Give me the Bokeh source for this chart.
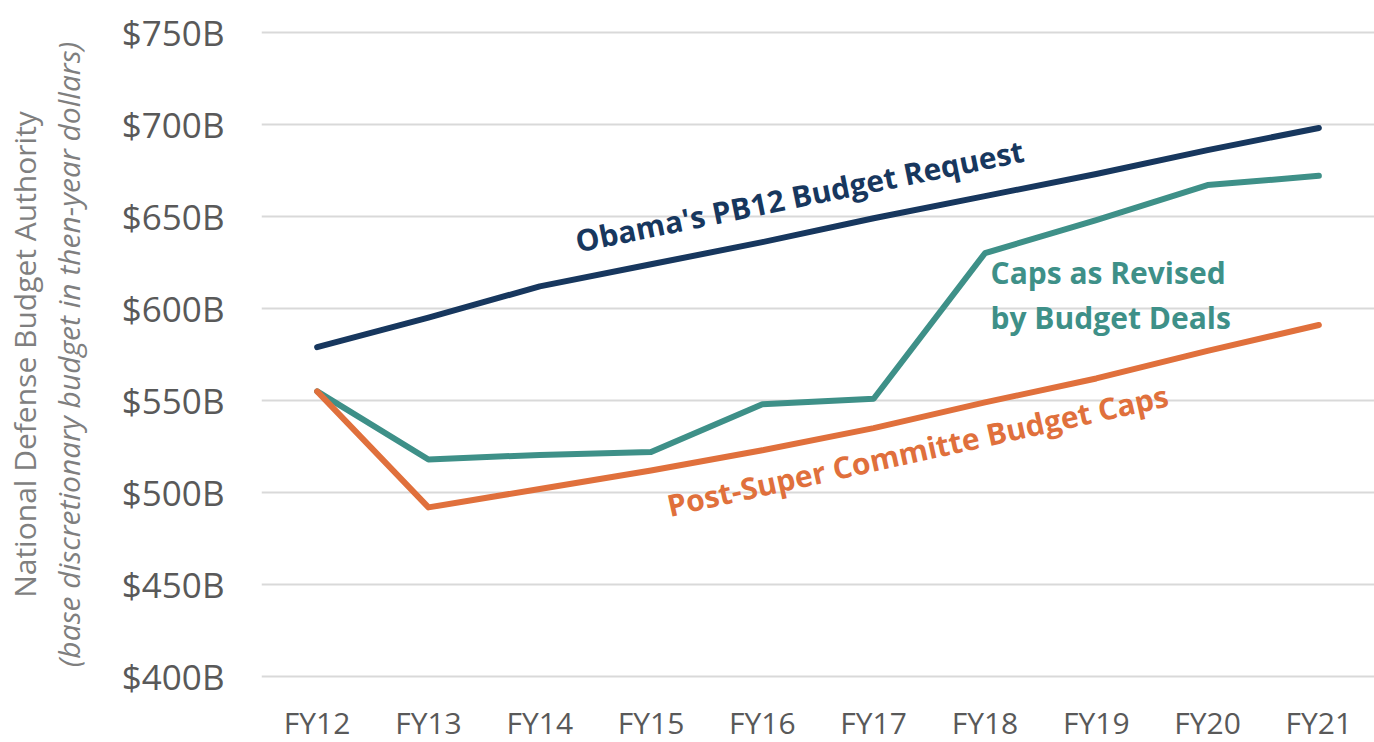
import math
from bokeh.plotting import figure
from bokeh.models import FactorRange, Range1d, FixedTicker, LinearAxis
from bokeh.core.properties import value
from bokeh.embed import file_html
from bokeh.resources import INLINE

# ---- data ----
years = ["FY12", "FY13", "FY14", "FY15", "FY16", "FY17", "FY18", "FY19", "FY20", "FY21"]
obama_pb12 = [579, 595, 612, 624, 636, 649, 661, 673, 686, 698]
caps_revised = [555, 518, 520.5, 522, 548, 551, 630, 648, 667, 672]
post_super_caps = [555, 492, 502, 512, 523, 535, 549, 562, 577, 591]
y_ticks = [400, 450, 500, 550, 600, 650, 700, 750]
y_tick_labels = ["$400B", "$450B", "$500B", "$550B", "$600B", "$650B", "$700B", "$750B"]

NAVY = "#17375e"
TEAL = "#3e9088"
ORANGE = "#e0703c"
GRAY = "#595959"
TITLE_GRAY = "#7f7f7f"
FONT = "Open Sans"

p = figure(
    x_range=FactorRange(*years),
    y_range=Range1d(398, 752),
    frame_width=1113,
    frame_height=652,
    min_border_left=259,
    min_border_top=28,
    min_border_right=2,
    min_border_bottom=10,
    output_backend="svg",
    toolbar_location=None,
)
p.outline_line_color = None
p.background_fill_color = "white"

# grid
p.xgrid.grid_line_color = None
p.ygrid.ticker = FixedTicker(ticks=y_ticks)
p.ygrid.grid_line_color = "#d9d9d9"
p.ygrid.grid_line_width = 2

# axes
p.yaxis.ticker = FixedTicker(ticks=y_ticks)
p.yaxis.major_label_overrides = {t: l for t, l in zip(y_ticks, y_tick_labels)}
for ax in (p.xaxis[0], p.yaxis[0]):
    ax.axis_line_color = None
    ax.major_tick_line_color = None
    ax.minor_tick_line_color = None
    ax.major_label_text_font = FONT
    ax.major_label_text_color = GRAY
p.yaxis.major_label_text_font_size = "35px"
p.yaxis.major_label_standoff = 31
p.xaxis.major_label_text_font_size = "30px"
p.xaxis.major_label_standoff = 15

# inner y-axis title (italic)
p.yaxis.axis_label = "(base discretionary budget in then-year dollars)"
p.yaxis.axis_label_text_font = FONT
p.yaxis.axis_label_text_font_style = "italic"
p.yaxis.axis_label_text_font_size = "30px"
p.yaxis.axis_label_text_color = TITLE_GRAY
p.yaxis.axis_label_standoff = 30

# outer y-axis title
outer = LinearAxis(
    ticker=FixedTicker(ticks=[]),
    axis_label="National Defense Budget Authority",
    axis_label_text_font=FONT,
    axis_label_text_font_style="normal",
    axis_label_text_font_size="30px",
    axis_label_text_color=TITLE_GRAY,
    axis_label_standoff=0,
    axis_line_color=None,
    major_tick_line_color=None,
    minor_tick_line_color=None,
    major_label_text_font_size="0px",
    major_label_standoff=0,
    major_tick_out=0,
    minor_tick_out=0,
)
p.add_layout(outer, "left")

# lines
for vals, col in ((obama_pb12, NAVY), (caps_revised, TEAL), (post_super_caps, ORANGE)):
    p.line(years, vals, line_color=col, line_width=6, line_cap="round", line_join="round")

# in-plot labels
p.text(x=[4.834], y=[661.2], text=["Obama's PB12 Budget Request"],
       angle=math.radians(11.5), text_align="center", text_baseline="middle",
       text_font=value(FONT), text_font_style="bold", text_font_size="30px", text_color=NAVY)
p.text(x=[5.894], y=[523.0], text=["Post-Super Committe Budget Caps"],
       angle=math.radians(12.5), text_align="center", text_baseline="middle",
       text_font=value(FONT), text_font_style="bold", text_font_size="30px", text_color=ORANGE)
p.text(x=[6.55, 6.55], y=[619.6, 595.2], text=["Caps as Revised", "by Budget Deals"],
       text_align="left", text_baseline="middle",
       text_font=value(FONT), text_font_style="bold", text_font_size="30px", text_color=TEAL)

open("out.html", "w").write(file_html(p, INLINE))
